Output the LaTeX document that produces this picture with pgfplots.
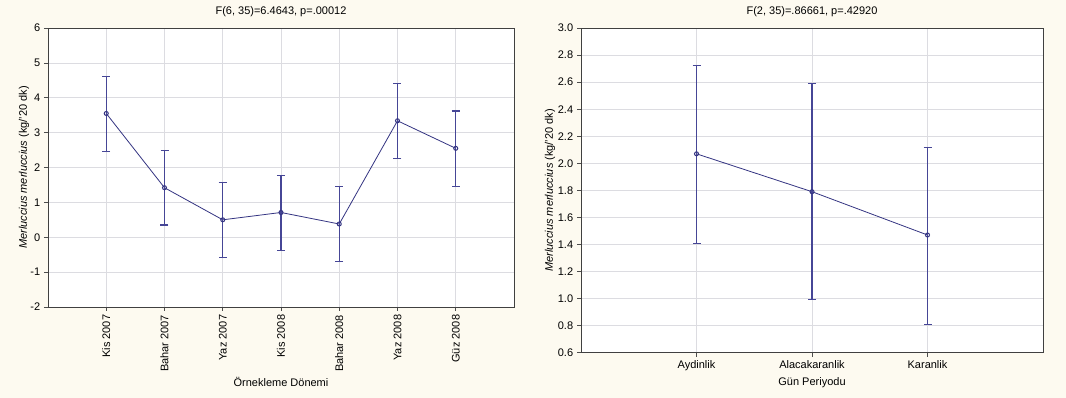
\documentclass[border=0pt]{standalone}
\usepackage{fontspec}
\setmainfont{Liberation Sans}
\usepackage{pgfplots}
\pgfplotsset{compat=1.18}
\definecolor{bgcream}{RGB}{253,250,240}
\definecolor{navy}{RGB}{52,52,130}
\definecolor{barblue}{RGB}{70,70,150}
\definecolor{gridgray}{RGB}{220,220,225}
\begin{document}
\fontsize{11}{13}\selectfont
\begin{tikzpicture}
\useasboundingbox (0pt,0pt) rectangle (1066pt,398pt);
\fill[bgcream] (0pt,0pt) rectangle (1066pt,398pt);
\pgfplotsset{
  every axis/.append style={
    scale only axis,
    font=\fontsize{11}{13}\selectfont,
    /pgf/number format/assume math mode=true,
    axis background/.style={fill=white},
    axis line style={draw=black!75, line width=0.8pt},
    grid=major,
    major grid style={gridgray, line width=0.6pt},
    tick align=outside,
    major tick length=4pt,
    tick style={black!70, line width=0.6pt},
    xtick pos=bottom, ytick pos=left,
    xtick=data,
  },
}
% left
\begin{axis}[
  at={(48pt,91pt)}, anchor=south west,
  width=466pt, height=279pt,
  xmin=-1, xmax=7, ymin=-2, ymax=6,
  ytick={-2,-1,0,1,2,3,4,5,6},
  xticklabels={Kis 2007,Bahar 2007,Yaz 2007,Kis 2008,Bahar 2008,Yaz 2008,Güz 2008},
  xticklabel style={rotate=90, anchor=east},
  title={F(6, 35)=6.4643, p=.00012},
  every axis title/.style={at={(axis description cs:0.5,1.0573)}, anchor=center},
  xlabel={Örnekleme Dönemi},
  every axis x label/.style={at={(axis description cs:0.5,-0.269)}, anchor=center},
  ylabel={\textit{Merluccius merluccius} (kg/'20 dk)},
  every axis y label/.style={at={(axis description cs:-0.0515,0.5)}, rotate=90, anchor=center},
]
\addplot[navy, line width=0.8pt, mark=o, mark size=2pt, mark options={line width=1pt},
  error bars/.cd, y dir=both, y explicit,
  error bar style={barblue, line width=1.1pt},
  error mark options={rotate=90, mark size=4pt, barblue, line width=1.1pt}]
  table[x=x, y=y, y error plus=ep, y error minus=em] {
x y ep em
0 3.55 1.07 1.08
1 1.42 1.07 1.07
2 0.50 1.08 1.07
3 0.71 1.07 1.08
4 0.38 1.08 1.07
5 3.34 1.08 1.07
6 2.55 1.07 1.09
};
\end{axis}
% right
\begin{axis}[
  at={(581pt,45.3pt)}, anchor=south west,
  width=462pt, height=324.7pt,
  xmin=-1, xmax=3, ymin=0.6, ymax=3.0,
  ytick={0.6,0.8,...,3.01},
  yticklabel style={/pgf/number format/.cd, fixed, fixed zerofill, precision=1},
  xticklabels={Aydinlik,Alacakaranlik,Karanlik},
  title={F(2, 35)=.86661, p=.42920},
  every axis title/.style={at={(axis description cs:0.5,1.0493)}, anchor=center},
  xlabel={Gün Periyodu},
  every axis x label/.style={at={(axis description cs:0.5,-0.0933)}, anchor=center},
  ylabel={\textit{Merluccius merluccius} (kg/'20 dk)},
  every axis y label/.style={at={(axis description cs:-0.067,0.5)}, rotate=90, anchor=center},
]
\addplot[navy, line width=0.8pt, mark=o, mark size=2pt, mark options={line width=1pt},
  error bars/.cd, y dir=both, y explicit,
  error bar style={barblue, line width=1.1pt},
  error mark options={rotate=90, mark size=4pt, barblue, line width=1.1pt}]
  table[x=x, y=y, y error plus=ep, y error minus=em] {
x y ep em
0 2.07 0.65 0.66
1 1.79 0.80 0.80
2 1.47 0.65 0.66
};
\end{axis}
\end{tikzpicture}
\end{document}
